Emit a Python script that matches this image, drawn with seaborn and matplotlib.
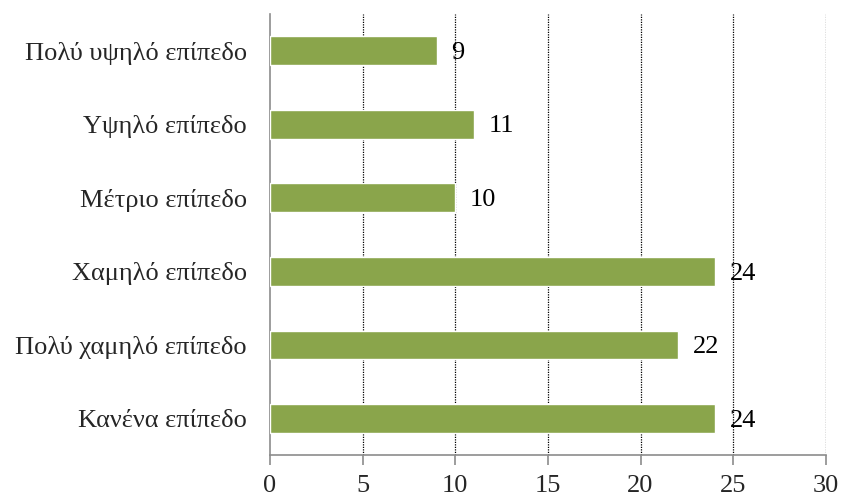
import matplotlib
matplotlib.use('Agg')
import matplotlib.pyplot as plt
import seaborn as sns
import pandas as pd
import numpy as np

# Levels, top to bottom as shown in the chart
levels = ['Πολύ υψηλό επίπεδο', 'Υψηλό επίπεδο', 'Μέτριο επίπεδο',
          'Χαμηλό επίπεδο', 'Πολύ χαμηλό επίπεδο', 'Κανένα επίπεδο']
counts = [9, 11, 10, 24, 22, 24]
x_ticks = [0, 5, 10, 15, 20, 25, 30]

df = pd.DataFrame({'level': levels, 'count': counts})

sns.set_style('white')
plt.rcParams['font.family'] = ['Liberation Serif', 'DejaVu Serif']

fig, ax = plt.subplots(figsize=(8.41, 4.97), dpi=100)
fig.subplots_adjust(left=0.321, right=0.982, top=0.972, bottom=0.084)

sns.barplot(data=df, y='level', x='count', order=levels, orient='h',
            color='#8AA54B', saturation=1, width=0.39, ax=ax, zorder=3)

# dotted vertical gridlines
for xv in x_ticks[1:]:
    ax.axvline(xv, color='black', linestyle=(0, (1, 1)), linewidth=0.9, zorder=1)

# value labels
for i, v in enumerate(counts):
    ax.text(v + 0.8, i + 0.03, str(v), va='center', ha='left', fontsize=19, color='black')

ax.set_xlim(0, 30)
ax.set_ylim(len(levels) - 0.5, -0.5)
ax.set_xticks(x_ticks)
ax.set_xlabel('')
ax.set_ylabel('')

for s in ['top', 'right']:
    ax.spines[s].set_visible(False)
for s in ['left', 'bottom']:
    ax.spines[s].set_color('#8c8c8c')
    ax.spines[s].set_linewidth(1.2)

ax.tick_params(axis='y', which='major', length=0, labelsize=19, pad=16.5)
ax.set_yticks(np.arange(-0.5, len(levels), 1), minor=True)
ax.tick_params(axis='y', which='minor', length=7, color='#8c8c8c', width=1.2)
ax.tick_params(axis='x', length=7, color='#8c8c8c', width=1.2, labelsize=19, pad=7,
               direction='out', bottom=True)

plt.savefig('out.png', dpi=100)
plt.close()
